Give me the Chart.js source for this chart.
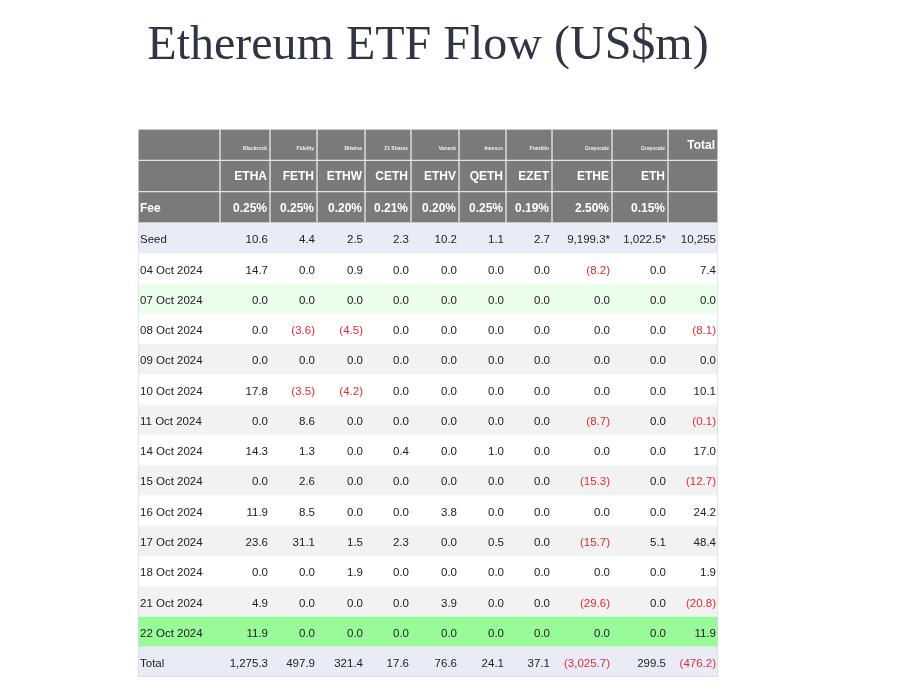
<!DOCTYPE html>
<html>
<head>
<meta charset="utf-8">
<title>Ethereum ETF Flow</title>
<script src="https://cdn.jsdelivr.net/npm/chart.js@4.4.0/dist/chart.umd.min.js"></script>
<style>
  html, body { margin: 0; padding: 0; background: #ffffff; }
  canvas { display: block; }
</style>
</head>
<body>
<canvas id="flowChart" width="901" height="695"></canvas>
<script>
// --- Données ---
const rowLabels = ['Seed', '04 Oct 2024', '07 Oct 2024', '08 Oct 2024', '09 Oct 2024', '10 Oct 2024',
    '11 Oct 2024', '14 Oct 2024', '15 Oct 2024', '16 Oct 2024', '17 Oct 2024', '18 Oct 2024',
    '21 Oct 2024', '22 Oct 2024', 'Total'];
const issuers = ['Blackrock', 'Fidelity', 'Bitwise', '21 Shares', 'Vaneck', 'Invesco', 'Franklin', 'Grayscale', 'Grayscale'];
const tickers = ['ETHA', 'FETH', 'ETHW', 'CETH', 'ETHV', 'QETH', 'EZET', 'ETHE', 'ETH'];
const fees = [0.25, 0.25, 0.20, 0.21, 0.20, 0.25, 0.19, 2.50, 0.15];

const ethaFlow = [10.6, 14.7, 0.0, 0.0, 0.0, 17.8, 0.0, 14.3, 0.0, 11.9, 23.6, 0.0, 4.9, 11.9, 1275.3];
const fethFlow = [4.4, 0.0, 0.0, -3.6, 0.0, -3.5, 8.6, 1.3, 2.6, 8.5, 31.1, 0.0, 0.0, 0.0, 497.9];
const ethwFlow = [2.5, 0.9, 0.0, -4.5, 0.0, -4.2, 0.0, 0.0, 0.0, 0.0, 1.5, 1.9, 0.0, 0.0, 321.4];
const cethFlow = [2.3, 0.0, 0.0, 0.0, 0.0, 0.0, 0.0, 0.4, 0.0, 0.0, 2.3, 0.0, 0.0, 0.0, 17.6];
const ethvFlow = [10.2, 0.0, 0.0, 0.0, 0.0, 0.0, 0.0, 0.0, 0.0, 3.8, 0.0, 0.0, 3.9, 0.0, 76.6];
const qethFlow = [1.1, 0.0, 0.0, 0.0, 0.0, 0.0, 0.0, 1.0, 0.0, 0.0, 0.5, 0.0, 0.0, 0.0, 24.1];
const ezetFlow = [2.7, 0.0, 0.0, 0.0, 0.0, 0.0, 0.0, 0.0, 0.0, 0.0, 0.0, 0.0, 0.0, 0.0, 37.1];
const etheFlow = [9199.3, -8.2, 0.0, 0.0, 0.0, 0.0, -8.7, 0.0, -15.3, 0.0, -15.7, 0.0, -29.6, 0.0, -3025.7];
const ethFlow = [1022.5, 0.0, 0.0, 0.0, 0.0, 0.0, 0.0, 0.0, 0.0, 0.0, 5.1, 0.0, 0.0, 0.0, 299.5];
const totalFlow = [10255, 7.4, 0.0, -8.1, 0.0, 10.1, -0.1, 17.0, -12.7, 24.2, 48.4, 1.9, -20.8, 11.9, -476.2];
const seedNote = ['', '', '', '', '', '', '', '*', '*', ''];

const flowColumns = [ethaFlow, fethFlow, ethwFlow, cethFlow, ethvFlow, qethFlow, ezetFlow, etheFlow, ethFlow, totalFlow];

// --- Mise en page (largeurs de colonnes, couleurs) ---
const colEdges = [0, 82, 132, 179, 227, 273, 321, 368, 414, 474, 530, 580];
const TABLE_W = colEdges[colEdges.length - 1];
const headerRows = ['issuer', 'ticker', 'fee'];
const rowColors = ['#e9ecf7', '#ffffff', '#ebfdeb', '#ffffff', '#f2f2f2', '#ffffff', '#f2f2f2', '#ffffff',
    '#f2f2f2', '#ffffff', '#f2f2f2', '#ffffff', '#f2f2f2', '#99fa99', '#e9ecf7'];
const HEADER_BG = '#7a7a7a';
const RED = '#dc2d36';
const TEXT = '#222222';
const SANS = "'Liberation Sans', Arial, sans-serif";

const formatFlow = (v, note) => {
    const digits = Math.abs(v) >= 10000 ? 0 : 1;
    const s = Math.abs(v).toLocaleString('en-US', { minimumFractionDigits: digits, maximumFractionDigits: digits });
    return v < 0 ? `(${s})` : s + (note || '');
};

// fond des lignes de données (axe yBody)
const rowDataset = {
    label: 'rows',
    yAxisID: 'yBody',
    data: rowLabels.map(() => [0, TABLE_W]),
    backgroundColor: (c) => rowColors[c.dataIndex],
    borderColor: '#d8d8d8',
    borderWidth: (c) => ({ left: 1, right: 1, top: 0, bottom: c.dataIndex === rowLabels.length - 1 ? 1 : 0 }),
    borderSkipped: false,
    grouped: false
};

// cellules de l'en-tête, une série par colonne (axe yHead)
const headerDatasets = colEdges.slice(0, -1).map((start, c) => ({
    label: 'head' + c,
    yAxisID: 'yHead',
    data: headerRows.map(() => [start, colEdges[c + 1]]),
    backgroundColor: HEADER_BG,
    borderColor: '#e4e4e4',
    borderWidth: 1,
    borderSkipped: false,
    grouped: false
}));

// textes des cellules, placés avec les échelles du graphique
const cellText = {
    id: 'cellText',
    afterDatasetsDraw(chart) {
        const { ctx, scales: { x, yHead, yBody } } = chart;
        const rightOf = (c, pad) => x.getPixelForValue(colEdges[c + 1]) - pad;
        const leftX = x.getPixelForValue(0) + 2;
        const headY = (i) => yHead.getPixelForValue(i) + 1;
        const bodyY = (i) => yBody.getPixelForValue(i) + 2;

        ctx.save();
        ctx.textBaseline = 'middle';

        // en-tête : émetteurs
        ctx.fillStyle = '#f2f2f2';
        ctx.textAlign = 'right';
        ctx.font = `bold 5px ${SANS}`;
        issuers.forEach((name, k) => ctx.fillText(name, rightOf(k + 1, 3), headY(0) + 3));
        ctx.fillStyle = '#ffffff';
        ctx.font = `bold 12px ${SANS}`;
        ctx.fillText('Total', rightOf(10, 3), headY(0));

        // tickers et frais
        tickers.forEach((t, k) => ctx.fillText(t, rightOf(k + 1, 3), headY(1)));
        fees.forEach((f, k) => ctx.fillText(f.toFixed(2) + '%', rightOf(k + 1, 3), headY(2)));
        ctx.textAlign = 'left';
        ctx.fillText('Fee', leftX, headY(2));

        // lignes de données
        ctx.font = `11.5px ${SANS}`;
        rowLabels.forEach((label, r) => {
            const yy = bodyY(r);
            ctx.textAlign = 'left';
            ctx.fillStyle = TEXT;
            ctx.fillText(label, leftX, yy);
            ctx.textAlign = 'right';
            flowColumns.forEach((col, k) => {
                const v = col[r];
                ctx.fillStyle = v < 0 ? RED : TEXT;
                ctx.fillText(formatFlow(v, r === 0 ? seedNote[k] : ''), rightOf(k + 1, 2), yy);
            });
        });
        ctx.restore();
    }
};

new Chart(document.getElementById('flowChart'), {
    type: 'bar',
    data: {
        labels: rowLabels,
        datasets: [rowDataset, ...headerDatasets]
    },
    options: {
        indexAxis: 'y',
        responsive: false,
        animation: false,
        devicePixelRatio: 1,
        barPercentage: 1,
        categoryPercentage: 1,
        layout: { padding: { left: 138, right: 183, top: 0, bottom: 18 } },
        scales: {
            x: { type: 'linear', min: 0, max: TABLE_W, display: false },
            // la pile est placée de bas en haut : le corps d'abord, l'en-tête ensuite
            yBody: { type: 'category', labels: rowLabels, position: 'left', stack: 'table', stackWeight: 454, display: false },
            yHead: { type: 'category', labels: headerRows, position: 'left', stack: 'table', stackWeight: 94, display: false }
        },
        plugins: {
            legend: { display: false },
            tooltip: { enabled: false },
            title: {
                display: true,
                text: 'Ethereum ETF Flow (US$m)',
                color: '#2f3542',
                font: { family: "'Liberation Serif', 'Times New Roman', serif", size: 48, weight: 'normal' },
                padding: { top: 18, bottom: 53.4 }
            }
        }
    },
    plugins: [cellText]
});
</script>
</body>
</html>
